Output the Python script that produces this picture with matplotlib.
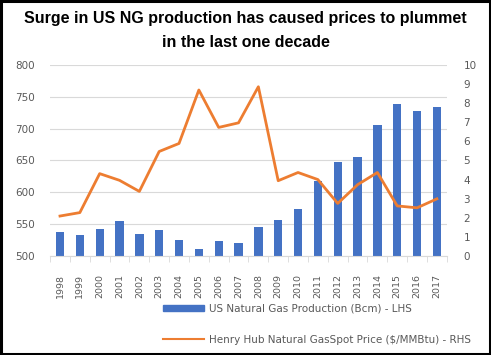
import matplotlib.pyplot as plt
import numpy as np
from matplotlib.patches import Patch, Rectangle
from matplotlib.lines import Line2D

years = [str(y) for y in range(1998, 2018)]
production_bcm = [538, 533, 542, 555, 535, 541, 525, 511, 524, 521,
                  546, 557, 574, 617, 648, 656, 705, 739, 728, 734]
henry_hub_price = [2.09, 2.27, 4.31, 3.96, 3.38, 5.47, 5.89, 8.69, 6.73, 6.97,
                   8.86, 3.94, 4.37, 4.00, 2.75, 3.73, 4.37, 2.62, 2.52, 2.99]

BAR_COLOR = "#4472C4"
LINE_COLOR = "#ED7D31"
GRID_COLOR = "#D9D9D9"
TEXT_COLOR = "#595959"

fig = plt.figure(figsize=(4.91, 3.55), dpi=100)
ax = fig.add_axes([0.102, 0.279, 0.808, 0.538])
ax2 = ax.twinx()

x = np.arange(len(years))
ax.bar(x, production_bcm, width=0.42, color=BAR_COLOR, zorder=2)
ax.set_ylim(500, 800)
ax.set_yticks(range(500, 801, 50))
ax.set_xlim(-0.5, len(years) - 0.5)
ax.yaxis.grid(True, color=GRID_COLOR, linewidth=0.8)
ax.set_axisbelow(True)

ax2.plot(x, henry_hub_price, color=LINE_COLOR, linewidth=2.0, zorder=3)
ax2.set_ylim(0, 10)
ax2.set_yticks(range(0, 11))

for a in (ax, ax2):
    for s in ("top", "left", "right"):
        a.spines[s].set_visible(False)
ax.spines["bottom"].set_color(GRID_COLOR)
ax2.spines["bottom"].set_visible(False)

ax.set_xticks(x)
ax.set_xticklabels(years, rotation=90, fontsize=6.8, color=TEXT_COLOR)
ax.tick_params(axis="x", length=0, pad=13)
ax.set_xticks(np.arange(-0.5, len(years), 1), minor=True)
ax.tick_params(axis="x", which="minor", length=4, color=GRID_COLOR)
ax.tick_params(axis="y", length=0, labelsize=7.5, labelcolor=TEXT_COLOR, pad=11)
ax2.tick_params(axis="y", length=0, labelsize=7.5, labelcolor=TEXT_COLOR, pad=12)

fig.text(0.5, 0.97, "Surge in US NG production has caused prices to plummet\nin the last one decade",
         ha="center", va="top", fontsize=11.5, fontweight="bold", linespacing=1.75,
         family="Liberation Sans")

handles = [Patch(color=BAR_COLOR, label="US Natural Gas Production (Bcm) - LHS"),
           Line2D([], [], color=LINE_COLOR, linewidth=1.5,
                  label="Henry Hub Natural GasSpot Price ($/MMBtu) - RHS")]
leg = fig.legend(handles=handles, loc="upper left", bbox_to_anchor=(0.313, 0.171),
                 frameon=False, fontsize=7.5, labelcolor=TEXT_COLOR,
                 handlelength=3.9, handleheight=0.6, labelspacing=2.0, handletextpad=0.5)

# black frame around the whole picture
fig.patches.append(Rectangle((0.003, 0.004), 0.994, 0.992, transform=fig.transFigure,
                             fill=False, edgecolor="black", linewidth=2.2))

fig.savefig("out.png", dpi=100, facecolor="white")
